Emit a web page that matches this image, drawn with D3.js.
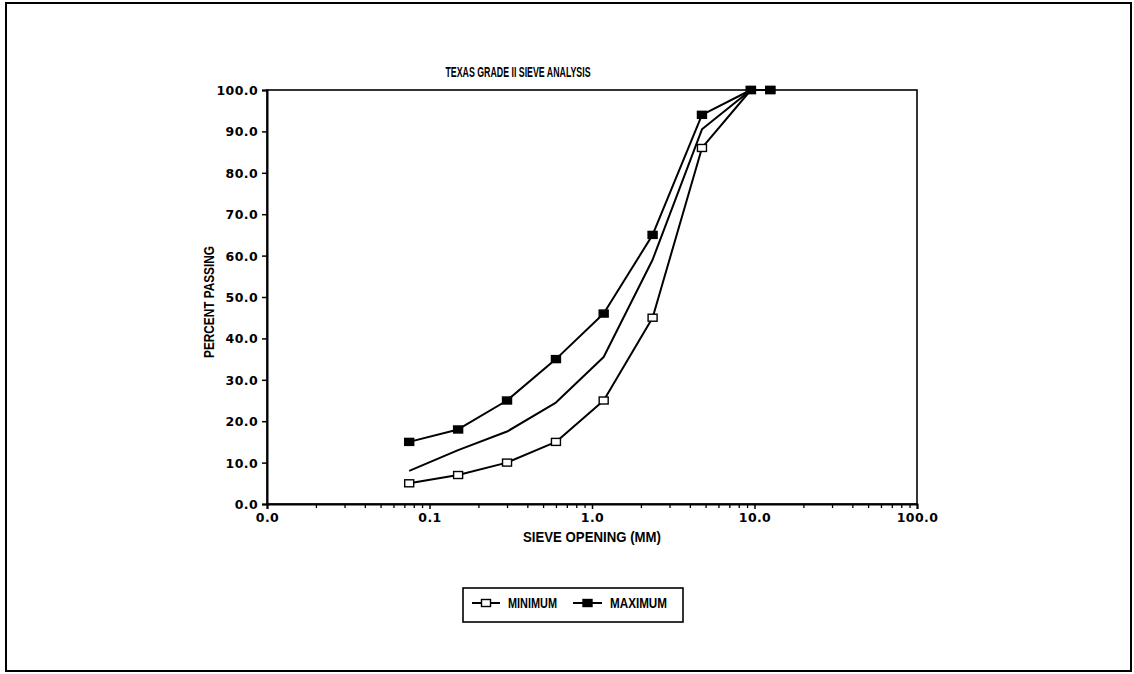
<!DOCTYPE html>
<html>
<head>
<meta charset="utf-8">
<script src="https://cdn.jsdelivr.net/npm/d3@7"></script>
<style>
  html, body { margin: 0; padding: 0; background: #fff; }
  svg { display: block; }
  .num { font-family: "DejaVu Sans", sans-serif; font-weight: bold; font-size: 12.5px; letter-spacing: 0.4px; fill: #000; }
  .lbl { font-family: "Liberation Sans Narrow", "Liberation Sans", Arial, sans-serif; font-weight: bold; font-size: 14px; fill: #000; }
</style>
</head>
<body>
<script>
// ---- data ----
const sieveSizes = [0.075, 0.15, 0.3, 0.6, 1.18, 2.36, 4.75, 9.5, 12.5];
const minimumPassing = [5, 7, 10, 15, 25, 45, 86, 100, 100];
const maximumPassing = [15, 18, 25, 35, 46, 65, 94, 100, 100];
const middlePassing = [8, 13, 17.5, 24.5, 35.5, 59, 90.5, 100, 100];
const xTickValues = [0.01, 0.1, 1, 10, 100];
const yTickValues = [0, 10, 20, 30, 40, 50, 60, 70, 80, 90, 100];
const titleText = "TEXAS GRADE II SIEVE ANALYSIS";
const xTitle = "SIEVE OPENING (MM)";
const yTitle = "PERCENT PASSING";
const legendNames = ["MINIMUM", "MAXIMUM"];

const W = 1134, H = 674;
const svg = d3.select("body").append("svg").attr("width", W).attr("height", H);

// outer frame
svg.append("rect").attr("x", 6).attr("y", 3).attr("width", 1125).attr("height", 668)
  .attr("fill", "none").attr("stroke", "#000").attr("stroke-width", 2);

const x = d3.scaleLog().domain([0.01, 100]).range([267, 917]);
const y = d3.scaleLinear().domain([0, 100]).range([504, 90]);

// plot box
svg.append("rect").attr("x", 267).attr("y", 90).attr("width", 917 - 267).attr("height", 504 - 90)
  .attr("fill", "none").attr("stroke", "#000").attr("stroke-width", 1.6);

// y axis
const yAxis = d3.axisLeft(y).tickValues(yTickValues).tickFormat(d3.format(".1f")).tickSize(5).tickPadding(4);
const gy = svg.append("g").attr("transform", "translate(267,0)").call(yAxis);
gy.select(".domain").attr("stroke-width", 2);
gy.selectAll(".tick line").attr("stroke-width", 1.5);
gy.selectAll("text").attr("class", "num").attr("dy", "0.36em");

// x axis: major + minor log ticks
const minorTicks = [];
for (let e = -2; e < 2; e++) for (let k = 2; k <= 9; k++) minorTicks.push(k * Math.pow(10, e));
const gxMinor = svg.append("g").attr("transform", "translate(0,504)")
  .call(d3.axisBottom(x).tickValues(minorTicks).tickFormat("").tickSize(4));
gxMinor.select(".domain").remove();
gxMinor.selectAll(".tick line").attr("stroke-width", 1.3);
const gx = svg.append("g").attr("transform", "translate(0,504)")
  .call(d3.axisBottom(x).tickValues(xTickValues).tickFormat(d3.format(".1f")).tickSize(5).tickPadding(4));
gx.select(".domain").attr("stroke-width", 2);
gx.selectAll(".tick line").attr("stroke-width", 1.5);
gx.selectAll("text").attr("class", "num");

// titles
svg.append("text").attr("class", "lbl").attr("x", 518).attr("y", 77).attr("text-anchor", "middle")
  .attr("textLength", 145).attr("lengthAdjust", "spacingAndGlyphs").text(titleText);
svg.append("text").attr("class", "lbl").attr("x", 592).attr("y", 542).attr("text-anchor", "middle")
  .attr("textLength", 138).attr("lengthAdjust", "spacingAndGlyphs").text(xTitle);
svg.append("text").attr("class", "lbl")
  .attr("transform", "translate(214,302) rotate(-90)").attr("text-anchor", "middle")
  .attr("textLength", 112).attr("lengthAdjust", "spacingAndGlyphs").text(yTitle);

// lines
const line = d3.line().x(d => x(d[0])).y(d => y(d[1]));
function drawLine(vals) {
  svg.append("path").datum(sieveSizes.map((s, i) => [s, vals[i]]))
    .attr("d", line).attr("fill", "none").attr("stroke", "#000").attr("stroke-width", 2)
    .attr("stroke-linejoin", "round");
}
drawLine(middlePassing);
drawLine(minimumPassing);
drawLine(maximumPassing);

const mw = 9, mh = 7;
function drawMarkers(vals, filled) {
  svg.append("g").selectAll("rect").data(sieveSizes.map((s, i) => [s, vals[i]])).join("rect")
    .attr("x", d => x(d[0]) - mw / 2).attr("y", d => y(d[1]) - mh / 2)
    .attr("width", mw).attr("height", mh)
    .attr("fill", filled ? "#000" : "#fff").attr("stroke", "#000").attr("stroke-width", 1.4);
}
drawMarkers(minimumPassing, false);
drawMarkers(maximumPassing, true);

// legend
const lg = svg.append("g");
lg.append("rect").attr("x", 463).attr("y", 588).attr("width", 220).attr("height", 34)
  .attr("fill", "#fff").attr("stroke", "#000").attr("stroke-width", 1.6);
const legendItems = [
  { name: legendNames[0], filled: false, x0: 472, x1: 500, tx: 508, tw: 49 },
  { name: legendNames[1], filled: true, x0: 573, x1: 602, tx: 610, tw: 57 }
];
legendItems.forEach(it => {
  lg.append("line").attr("x1", it.x0).attr("x2", it.x1).attr("y1", 603).attr("y2", 603)
    .attr("stroke", "#000").attr("stroke-width", 2);
  lg.append("rect").attr("x", (it.x0 + it.x1) / 2 - mw / 2).attr("y", 603 - mh / 2)
    .attr("width", mw).attr("height", mh)
    .attr("fill", it.filled ? "#000" : "#fff").attr("stroke", "#000").attr("stroke-width", 1.4);
  lg.append("text").attr("class", "lbl").attr("x", it.tx).attr("y", 608)
    .attr("textLength", it.tw).attr("lengthAdjust", "spacingAndGlyphs").text(it.name);
});
</script>
</body>
</html>
